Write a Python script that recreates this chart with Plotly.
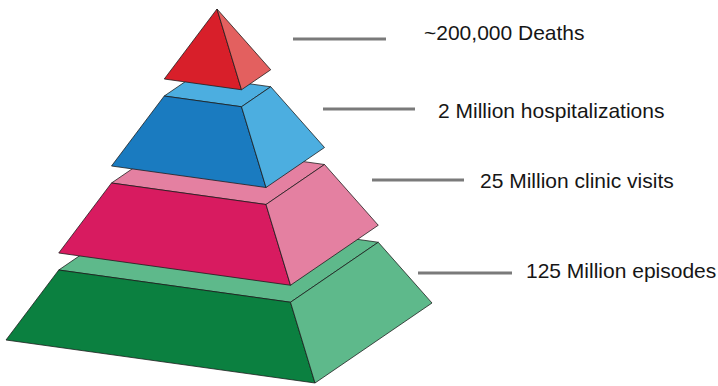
import plotly.graph_objects as go

# ---- data ----
labels = ["125 Million episodes", "25 Million clinic visits",
          "2 Million hospitalizations", "~200,000 Deaths"]  # bottom -> top
counts = [125_000_000, 25_000_000, 2_000_000, 200_000]
front_colors = ["#0b8040", "#d81b60", "#1a7bc0", "#d81f2a"]
side_colors = ["#5eb98b", "#e480a1", "#4caee0", "#e3605f"]

# ---- layout / geometry constants (pixel space) ----
W, H = 718, 386
base_fl = (6, 340)       # front-left base corner
base_fr = (315, 383)     # front-right base corner
base_br = (432, 303)     # back-right base corner
base_bl = (base_fl[0] + base_br[0] - base_fr[0], base_fl[1] + base_br[1] - base_fr[1])
apex = (217, 60)
gap = 17                 # vertical separation between tiers
n = len(labels)

leader_x0 = [418, 372, 323, 293]
leader_x1 = [512, 464, 415, 386]
leader_y = [273, 180, 109, 39]
text_x = [524, 478, 436, 422]
text_y = [270, 180, 110, 32]


def at(c, t, k):
    return (c[0] + t * (apex[0] - c[0]), c[1] + t * (apex[1] - c[1]) - gap * k)


fig = go.Figure()


def face(pts, color):
    xs = [p[0] for p in pts] + [pts[0][0]]
    ys = [p[1] for p in pts] + [pts[0][1]]
    fig.add_trace(go.Scatter(x=xs, y=ys, mode="lines", fill="toself",
                             fillcolor=color, line=dict(color="rgba(25,25,25,0.85)", width=0.9),
                             hoverinfo="skip", showlegend=False))


for k in range(n):
    t0, t1 = k / n, (k + 1) / n
    fl0, fr0, br0 = at(base_fl, t0, k), at(base_fr, t0, k), at(base_br, t0, k)
    fl1, fr1, br1, bl1 = (at(base_fl, t1, k), at(base_fr, t1, k),
                          at(base_br, t1, k), at(base_bl, t1, k))
    if k < n - 1:
        face([fl1, fr1, br1, bl1], side_colors[k])
        face([fl0, fr0, fr1, fl1], front_colors[k])
        face([fr0, br0, br1, fr1], side_colors[k])
    else:
        face([fl0, fr0, fr1], front_colors[k])
        face([fr0, br0, br1], side_colors[k])

for k in range(n):
    fig.add_trace(go.Scatter(x=[leader_x0[k], leader_x1[k]], y=[leader_y[k], leader_y[k]],
                             mode="lines", line=dict(color="#7a7a7a", width=3),
                             hoverinfo="skip", showlegend=False))
    fig.add_annotation(x=text_x[k], y=text_y[k],
                       text=labels[k], showarrow=False, xanchor="left", yanchor="middle",
                       font=dict(family="Liberation Sans, Arial, sans-serif", size=21, color="#161616"))

fig.update_layout(
    width=W, height=H, margin=dict(l=0, r=0, t=0, b=0),
    paper_bgcolor="white", plot_bgcolor="white",
    xaxis=dict(range=[0, W], visible=False, fixedrange=True),
    yaxis=dict(range=[H, 0], visible=False, fixedrange=True),
)
fig.write_html("out.html", config={"displayModeBar": False},
               post_script="document.body.style.margin='0';document.body.style.overflow='hidden';")
